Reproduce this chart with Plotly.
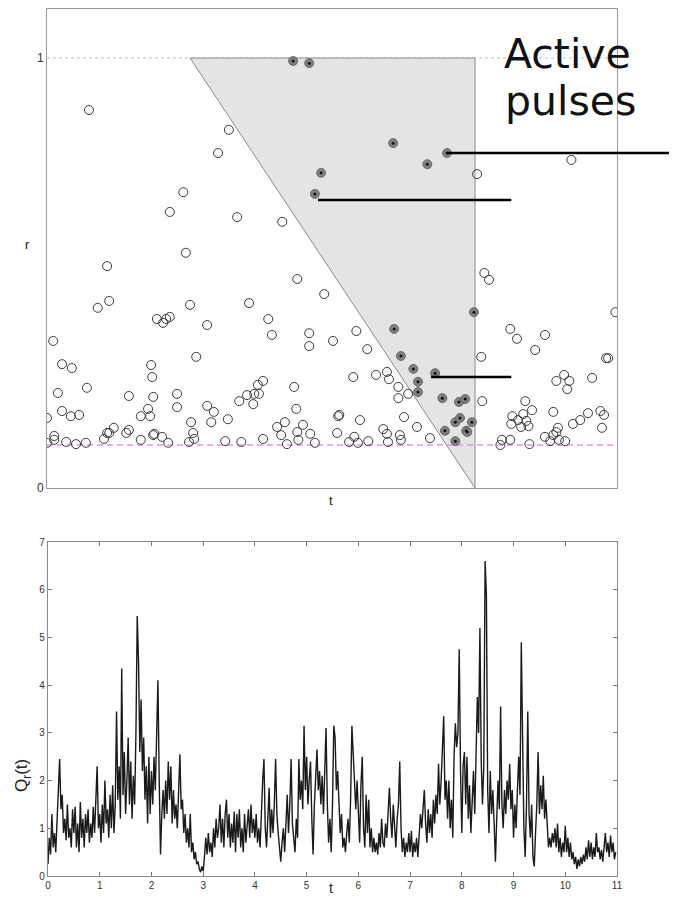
import plotly.graph_objects as go

# ---------------- top panel data (t, r) ----------------
open_t = [0.81, 3.51, 3.30, 2.63, 2.37, 3.67, 4.54, 2.68, 1.16, 4.83, 5.35, 1.20, 0.98, 2.76, 3.90,
          2.12, 2.24, 2.30, 2.37, 3.09, 4.27, 4.34, 5.06, 5.06, 5.52, 0.12, 2.88, 0.29, 0.48, 2.01,
          2.03, 0.77, 0.21, 4.77, 4.17, 4.07, 4.09, 4.00, 3.86, 3.98, 3.71, 1.58, 2.05, 2.51, 2.51,
          1.95, 1.99, 1.81, 3.09, 3.22, 3.17, 2.78, 3.49, 4.81, 0.29, 0.46, 0.62, 0.00, 5.62, 4.59,
          4.44, 4.94, 1.29, 0.14, 0.14, 1.16, 1.20, 1.10, 1.58, 1.53, 2.07, 2.05, 2.22, 2.82, 2.84,
          2.74, 4.52, 4.83, 4.85, 5.08, 5.60, 0.00, 0.37, 0.56, 0.75, 1.81, 2.34, 3.44, 3.75, 4.17,
          4.63, 5.17, 8.44, 8.53, 10.97, 5.97, 6.18, 8.94, 9.07, 9.61, 9.42, 8.38, 10.83, 10.79,
          5.91, 6.35, 6.56, 6.60, 6.78, 6.78, 6.97, 8.40, 9.98, 9.83, 10.08, 10.04, 10.52, 9.23,
          9.36, 8.98, 9.19, 9.09, 9.25, 9.15, 9.29, 8.96, 9.77, 10.15, 10.29, 10.44, 10.68, 10.75,
          10.71, 5.64, 6.04, 6.89, 7.14, 6.49, 6.56, 6.81, 6.83, 7.39, 5.83, 5.93, 6.00, 6.20,
          6.58, 8.78, 8.75, 8.94, 9.31, 9.61, 9.71, 9.86, 9.83, 9.77, 9.88, 10.00, 8.30, 10.12]
open_r = [0.879, 0.833, 0.779, 0.688, 0.642, 0.630, 0.619, 0.547, 0.516, 0.486, 0.451, 0.435, 0.419,
          0.426, 0.430, 0.393, 0.384, 0.393, 0.398, 0.379, 0.393, 0.356, 0.360, 0.330, 0.342, 0.342,
          0.305, 0.288, 0.279, 0.286, 0.258, 0.233, 0.221, 0.235, 0.249, 0.240, 0.219, 0.219, 0.216,
          0.195, 0.202, 0.214, 0.212, 0.219, 0.188, 0.184, 0.167, 0.167, 0.191, 0.177, 0.153, 0.153,
          0.160, 0.184, 0.179, 0.167, 0.170, 0.163, 0.167, 0.153, 0.142, 0.147, 0.140, 0.121, 0.112,
          0.128, 0.128, 0.114, 0.135, 0.128, 0.126, 0.123, 0.119, 0.128, 0.114, 0.107, 0.123, 0.130,
          0.112, 0.126, 0.128, 0.105, 0.107, 0.102, 0.105, 0.112, 0.105, 0.109, 0.107, 0.114, 0.102,
          0.105, 0.500, 0.484, 0.409, 0.365, 0.323, 0.370, 0.347, 0.356, 0.321, 0.305, 0.302, 0.302,
          0.258, 0.263, 0.270, 0.253, 0.235, 0.209, 0.219, 0.202, 0.263, 0.249, 0.249, 0.230, 0.256,
          0.202, 0.181, 0.167, 0.172, 0.158, 0.156, 0.142, 0.144, 0.149, 0.177, 0.149, 0.158, 0.174,
          0.179, 0.170, 0.140, 0.170, 0.158, 0.165, 0.142, 0.137, 0.126, 0.123, 0.112, 0.116, 0.107,
          0.119, 0.105, 0.109, 0.107, 0.112, 0.100, 0.112, 0.102, 0.119, 0.109, 0.140, 0.130, 0.123,
          0.112, 0.109, 0.730, 0.763]

active_t = [4.75, 5.06, 5.29, 5.17, 6.68, 7.34, 7.72, 8.24, 6.70, 6.83, 7.07, 7.16, 7.16, 7.49,
            7.63, 7.95, 8.07, 7.88, 7.97, 8.20, 8.09, 8.11, 7.68, 7.88]
active_r = [0.993, 0.988, 0.733, 0.684, 0.802, 0.753, 0.779, 0.409, 0.370, 0.307, 0.277, 0.247,
            0.223, 0.267, 0.209, 0.200, 0.207, 0.153, 0.163, 0.153, 0.133, 0.130, 0.133, 0.109]

region_t = [2.76, 8.26, 8.26, 2.76]
region_r = [1.0, 1.0, 0.0, 1.0]
threshold_r = 0.1
r_tickvals = [0, 1]

# ---------------- bottom panel data ----------------
dt = 0.025
q = [
    0.25, 0.8, 0.45, 1.3, 0.6, 0.9, 0.5, 1.2, 1.6, 2.45, 1.4, 1.7, 0.9, 1.2, 0.75, 1.5, 0.8, 1.0, 0.6, 1.4,
    0.9, 1.45, 0.6, 1.1, 0.5, 1.55, 0.8, 1.2, 0.6, 1.3, 0.9, 1.4, 0.7, 1.1, 0.8, 1.45, 0.9, 1.6, 2.3, 1.0,
    1.3, 0.7, 1.5, 0.9, 2.0, 1.1, 1.4, 0.8, 1.7, 1.0, 1.9, 0.9, 1.5, 3.45, 1.6, 2.3, 1.2, 4.35, 1.7, 2.6,
    1.3, 2.0, 2.9, 1.5, 2.4, 1.2, 2.1, 1.5, 3.0, 5.45, 4.5, 2.6, 3.7, 2.2, 2.9, 1.6, 2.3, 1.1, 2.5, 1.3,
    2.2, 1.5, 2.5, 1.8, 3.0, 4.1, 2.0, 0.45, 1.3, 1.8, 1.2, 2.0, 1.3, 2.4, 1.6, 2.3, 1.1, 1.8, 1.2, 1.5,
    1.0, 1.7, 2.55, 1.4, 1.6, 0.9, 1.3, 0.7, 1.0, 0.6, 1.3, 0.5, 0.7, 0.35, 0.5, 0.25, 0.3, 0.15, 0.08, 0.2,
    0.1, 0.4, 0.8, 0.45, 0.9, 0.5, 0.7, 0.4, 1.0, 0.6, 1.2, 0.8, 1.0, 1.5, 0.7, 1.2, 0.6, 1.3, 1.6, 0.8,
    1.3, 0.6, 1.1, 0.7, 1.35, 0.5, 1.3, 0.8, 1.4, 0.6, 1.0, 0.5, 1.3, 0.7, 1.1, 1.4, 0.8, 1.5, 0.9, 1.2,
    0.8, 1.3, 0.7, 1.0, 0.6, 1.4, 2.0, 2.45, 1.0, 0.6, 1.2, 1.85, 0.8, 1.4, 0.9, 1.5, 2.45, 1.3, 0.9, 0.5,
    0.3, 0.7, 1.0, 0.5, 1.2, 1.7, 0.9, 1.5, 2.45, 1.1, 0.8, 0.5, 1.2, 0.8, 2.45, 1.6, 2.0, 1.4, 3.15, 1.8,
    2.5, 1.5, 2.0, 2.4, 1.2, 0.45, 1.5, 2.1, 2.65, 1.8, 2.2, 1.5, 2.1, 1.3, 2.4, 3.1, 1.5, 0.7, 1.2, 0.5,
    1.5, 3.15, 2.9, 1.8, 2.2, 1.4, 0.9, 1.3, 0.6, 0.8, 0.5, 0.9, 1.2, 0.7, 1.6, 3.15, 2.5, 1.9, 1.4, 2.0,
    1.2, 0.7, 1.9, 2.5, 1.0, 0.6, 1.7, 0.9, 1.6, 0.6, 1.0, 0.5, 0.8, 0.5, 0.7, 0.45, 0.9, 0.6, 1.2, 0.7,
    0.6, 1.1, 0.8, 1.4, 1.85, 1.2, 0.8, 1.5, 1.0, 0.6, 1.2, 1.5, 2.4, 1.0, 0.5, 0.8, 0.4, 0.7, 0.5, 0.9,
    0.5, 0.95, 0.4, 0.7, 0.5, 0.8, 0.4, 0.9, 1.3, 1.0, 1.5, 1.8, 1.1, 0.7, 1.4, 0.9, 1.3, 0.8, 1.6, 1.1,
    1.7, 1.3, 2.35, 1.5, 2.0, 2.85, 3.35, 1.6, 2.0, 1.2, 2.0, 1.0, 1.6, 0.8, 2.5, 3.2, 2.7, 3.0, 4.75, 2.2,
    0.9, 2.3, 2.6, 1.5, 2.5, 1.2, 1.9, 0.9, 1.6, 2.2, 1.3, 2.4, 3.75, 3.0, 5.2, 2.4, 1.5, 2.3, 6.6, 5.9,
    1.8, 0.9, 2.2, 1.3, 1.8, 1.1, 0.3, 1.2, 2.0, 1.4, 3.55, 1.5, 1.0, 1.8, 1.3, 2.0, 1.6, 2.35, 1.4, 1.8,
    0.8, 1.5, 1.0, 1.8, 2.5, 1.7, 4.9, 2.9, 1.0, 0.4, 1.5, 3.45, 1.3, 0.8, 1.5, 0.4, 0.2, 0.9, 1.5, 2.6,
    1.3, 1.9, 1.4, 2.1, 1.2, 1.6, 0.9, 0.6, 0.8, 0.6, 0.9, 0.7, 1.0, 0.6, 1.1, 0.5, 0.8, 0.4, 0.7, 0.5,
    1.05, 0.5, 0.8, 0.4, 0.7, 0.35, 0.5, 0.25, 0.4, 0.15, 0.35, 0.2, 0.4, 0.25, 0.45, 0.3, 0.6, 0.35, 0.75, 0.4,
    0.7, 0.35, 0.6, 0.4, 0.9, 0.5, 0.6, 0.35, 0.55, 0.3, 0.6, 0.9, 0.5, 0.7, 0.4, 0.85, 0.5, 0.7, 0.35, 0.5,
]
t_series = [round(i * dt, 4) for i in range(len(q))]
x_ticks = list(range(0, 12))
y_ticks = list(range(0, 8))

# ---------------- layout geometry (page pixels; page body has an 8px margin) ----------------
OFF = 8
FW, FH = 669, 890

def px_x(p):
    return (p - OFF) / FW

def px_y(p):
    return 1 - (p - OFF) / FH

TOP_PX = 9
top_xdom = [px_x(47), px_x(617)]
top_ydom = [px_y(488), px_y(TOP_PX)]
top_rmax = (488 - TOP_PX) / (488 - 58)
bot_xdom = [px_x(48), px_x(617)]
bot_ydom = [px_y(876), px_y(542)]

fig = go.Figure()

# r = 1 dotted reference
fig.add_trace(go.Scatter(x=[0, 11], y=[1, 1], mode="lines",
                         line=dict(color="#bdbdbd", width=1, dash="dot"),
                         xaxis="x", yaxis="y", hoverinfo="skip", showlegend=False))
# active region
fig.add_trace(go.Scatter(x=region_t, y=region_r, mode="lines", fill="toself",
                         fillcolor="#e4e4e4", line=dict(color="#8a8a8a", width=1),
                         xaxis="x", yaxis="y", hoverinfo="skip", showlegend=False))
# threshold
fig.add_trace(go.Scatter(x=[0, 11], y=[threshold_r, threshold_r], mode="lines",
                         line=dict(color="#d99bd9", width=1.5, dash="6px,4px"),
                         xaxis="x", yaxis="y", hoverinfo="skip", showlegend=False))
# inactive pulses
fig.add_trace(go.Scatter(x=open_t, y=open_r, mode="markers",
                         marker=dict(symbol="circle-open", size=9, color="#3a3a3a",
                                     line=dict(width=1)),
                         xaxis="x", yaxis="y", showlegend=False))
# active pulses
fig.add_trace(go.Scatter(x=active_t, y=active_r, mode="markers",
                         marker=dict(symbol="circle", size=9, color="#808080",
                                     line=dict(width=0.8, color="#5a5a5a")),
                         xaxis="x", yaxis="y", showlegend=False))
fig.add_trace(go.Scatter(x=active_t, y=active_r, mode="markers",
                         marker=dict(symbol="circle", size=3, color="#111111"),
                         xaxis="x", yaxis="y", showlegend=False))

# bottom time series
fig.add_trace(go.Scatter(x=t_series, y=q, mode="lines",
                         line=dict(color="#1a1a1a", width=1.4),
                         xaxis="x2", yaxis="y2", showlegend=False))

frame_col = "#9a9a9a"
fig.update_layout(
    width=FW, height=FH,
    margin=dict(l=0, r=0, t=0, b=0),
    paper_bgcolor="white", plot_bgcolor="white",
    font=dict(family="Liberation Sans, Arial, sans-serif", color="#222"),
    xaxis=dict(domain=top_xdom, range=[0, 11], anchor="y", showticklabels=False,
               ticks="", showgrid=False, zeroline=False, showline=True, mirror=True,
               linecolor=frame_col, linewidth=1, automargin=False),
    yaxis=dict(domain=top_ydom, range=[0, top_rmax], anchor="x", tickvals=r_tickvals,
               ticktext=[str(v) for v in r_tickvals], ticks="", showgrid=False,
               zeroline=False, showline=True, mirror=True, linecolor=frame_col,
               linewidth=1, tickfont=dict(size=12, color="#333"), automargin=False),
    xaxis2=dict(domain=bot_xdom, range=[0, 11], anchor="y2", tickvals=x_ticks,
                ticks="inside", ticklen=4, tickcolor="#777", showgrid=False, zeroline=False,
                showline=True, mirror="ticks", linecolor="#8a8a8a", linewidth=1.2,
                tickfont=dict(size=10, color="#333"), automargin=False),
    yaxis2=dict(domain=bot_ydom, range=[0, 7], anchor="x2", tickvals=y_ticks,
                ticks="inside", ticklen=4, tickcolor="#777", showgrid=False, zeroline=False,
                showline=True, mirror="ticks", linecolor="#8a8a8a", linewidth=1.2,
                tickfont=dict(size=10, color="#333"), automargin=False),
)

def tx(t):
    return top_xdom[0] + (top_xdom[1] - top_xdom[0]) * t / 11

def ty(r):
    return top_ydom[0] + (top_ydom[1] - top_ydom[0]) * r / top_rmax

# pointer lines for "Active pulses"
lines = [
    (tx(active_t[6]), ty(active_r[6]), 1.0, ty(active_r[6])),
    (tx(5.23), ty(0.670), tx(8.96), ty(0.670)),
    (tx(7.41), ty(0.258), tx(8.96), ty(0.258)),
]
for x0, y0, x1, y1 in lines:
    fig.add_shape(type="line", xref="paper", yref="paper", x0=x0, y0=y0, x1=x1, y1=y1,
                  line=dict(color="#000", width=2.5))

ann_font = dict(family="DejaVu Sans, sans-serif", size=41, color="#111")
fig.add_annotation(text="Active", xref="paper", yref="paper", x=px_x(567), y=px_y(54),
                   showarrow=False, font=ann_font, xanchor="center", yanchor="middle")
fig.add_annotation(text="pulses", xref="paper", yref="paper", x=px_x(570), y=px_y(101),
                   showarrow=False, font=ann_font, xanchor="center", yanchor="middle")

lab = dict(family="Liberation Sans, Arial, sans-serif", size=13, color="#222")
fig.add_annotation(text="r", xref="paper", yref="paper", x=px_x(27), y=px_y(245),
                   showarrow=False, font=lab, xanchor="center", yanchor="middle")
fig.add_annotation(text="t", xref="paper", yref="paper", x=px_x(331), y=px_y(500),
                   showarrow=False, font=lab, xanchor="center", yanchor="middle")
fig.add_annotation(text="t", xref="paper", yref="paper", x=px_x(331), y=px_y(888),
                   showarrow=False, xanchor="center", yanchor="middle",
                   font=dict(family="Liberation Sans, Arial, sans-serif", size=14, color="#222"))
fig.add_annotation(text="Q<sub>r</sub>(t)", xref="paper", yref="paper", x=px_x(23), y=px_y(776),
                   showarrow=False, textangle=-90, xanchor="center", yanchor="middle",
                   font=dict(family="Liberation Sans, Arial, sans-serif", size=17, color="#222"))

fig.write_html("out.html")
